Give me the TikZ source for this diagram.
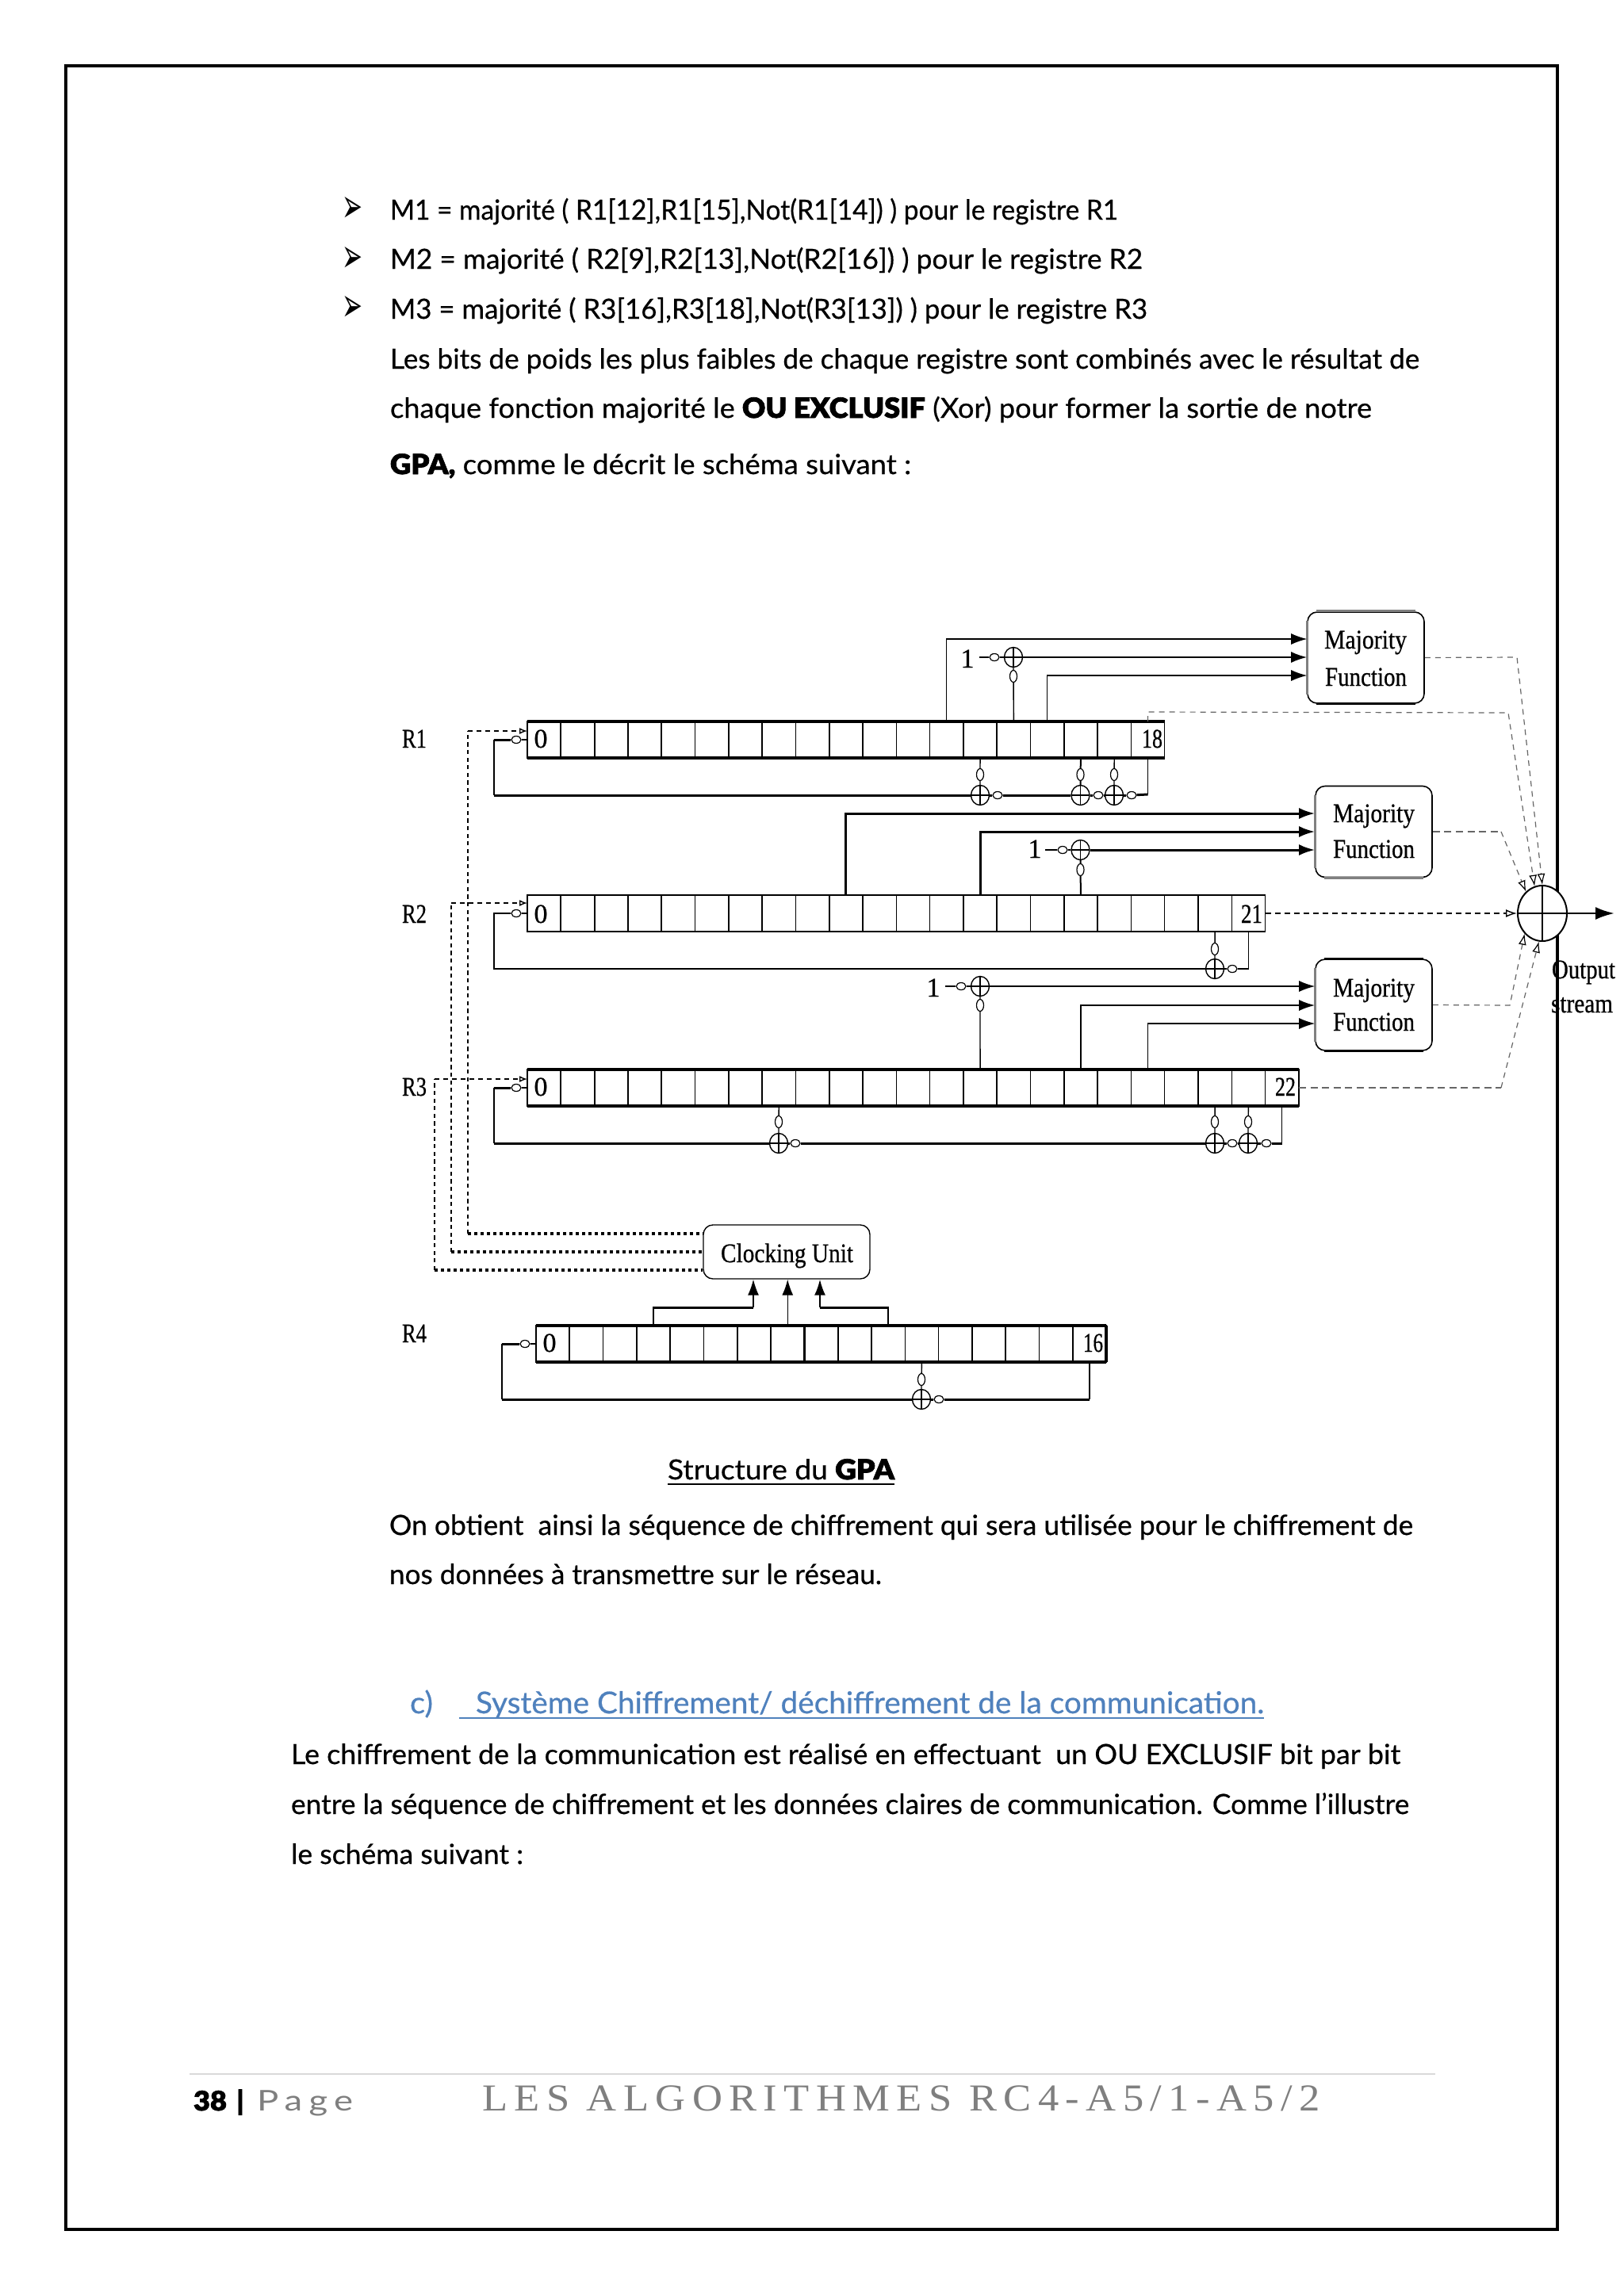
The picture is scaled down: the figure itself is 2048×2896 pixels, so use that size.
\documentclass[tikz,border=0pt]{standalone}
\usepackage{fontspec}
\usepackage{graphicx}
\usetikzlibrary{shapes.geometric,arrows.meta,calc}
\setmainfont{Lato}[FakeBold=0.5]
\newfontfamily\heavy{Lato Black}[FakeBold=2]
\newfontfamily\diag{Liberation Serif}[FakeBold=0.7]
\newfontfamily\dingfont{DejaVu Sans}
\newfontfamily\footserif{Liberation Serif}[LetterSpace=16]
\newfontfamily\footsans{Lato}[LetterSpace=18]
\definecolor{headblue}{HTML}{4F81BD}
\definecolor{footgray}{HTML}{7F7F7F}
\definecolor{dashgray}{HTML}{666666}
\newcommand{\fitx}[2]{\resizebox{\dimexpr #1pt/2\relax}{\height}{#2}}
\newcommand{\bodytext}{\fontsize{17.5}{20}\selectfont}
\newcommand{\dtext}{\diag\fontsize{17}{18}\selectfont}
% name, x, baseline, width (px), text
\newcommand{\bodyline}[5]{\node[txt] (#1) at (#2,#3) {\fitx{#4}{\bodytext #5}};}
\newcommand{\dlabel}[5]{\node[txt] (#1) at (#2,#3) {\fitx{#4}{\dtext #5}};}
\newcommand{\dcenter}[4]{\node[txt,anchor=base] (#1) at (#2,#3) {\dtext #4};}
% register: name, left x, top y, number of cells, cells with a heavy right side
\newcommand{\register}[5]{%
  \pgfmathtruncatemacro{\lastcell}{#4-1}%
  \foreach \i in {0,...,\lastcell}{%
    \pgfmathsetmacro{\cx}{#2+(\i+0.5)*42.3}%
    \pgfmathsetmacro{\cy}{#3+23}%
    \node[regcell] (#1c\i) at (\cx,\cy) {};
  }%
  \draw[divider] (#1c0.north west) -- (#1c0.south west);
  \foreach \i in {#5}{%
    \draw[divider] (#1c\i.north east) -- (#1c\i.south east);
  }%
}
\tikzset{
  x=0.5pt,y=-0.5pt,
  txt/.style={inner sep=0pt,outer sep=0pt,anchor=base west},
  regcell/.style={draw,line width=0.75pt,inner sep=0pt,outer sep=0pt,minimum width=21.15pt,minimum height=23pt},
  divider/.style={line width=1.1pt},
  edgebar/.style={line width=1.7pt},
  wire/.style={line width=0.7pt},
  wirem/.style={line width=1pt},
  wiret/.style={line width=1.5pt},
  tipb/.style={-{Latex[length=10pt,width=7pt]}},
  tipo/.style={-{Latex[open,length=7pt,width=5pt,color=black]}},
  tipi/.style={-{Latex[open,length=5pt,width=4pt]}},
  smallh/.style={ellipse,draw,fill=white,line width=0.6pt,inner sep=0pt,minimum width=6pt,minimum height=4.5pt},
  smallv/.style={ellipse,draw,fill=white,line width=0.6pt,inner sep=0pt,minimum width=4.5pt,minimum height=7.5pt},
  xorgate/.style={ellipse,draw,fill=white,line width=0.7pt,inner sep=0pt,minimum width=11.5pt,minimum height=12.5pt,
    path picture={\draw[line width=0.7pt] (path picture bounding box.north)--(path picture bounding box.south)
      (path picture bounding box.west)--(path picture bounding box.east);}},
  bigxor/.style={ellipse,draw,fill=white,line width=1pt,inner sep=0pt,minimum width=31pt,minimum height=35pt,
    path picture={\draw[line width=0.7pt] (path picture bounding box.north)--(path picture bounding box.south)
      (path picture bounding box.west)--(path picture bounding box.east);}},
  funcbox/.style={draw,rounded corners=6pt,line width=0.8pt,inner sep=0pt,minimum width=73.5pt,minimum height=57.5pt},
  clockbox/.style={draw,rounded corners=6pt,line width=0.7pt,inner sep=0pt,minimum width=105pt,minimum height=34pt},
  clockup/.style={line width=0.6pt,dash pattern=on 2.6pt off 2.2pt},
  clocktop/.style={line width=0.7pt,dash pattern=on 3pt off 2.5pt},
  clockh/.style={line width=1.6pt,dash pattern=on 2pt off 2pt},
  outthin/.style={line width=0.6pt,dashgray,dash pattern=on 3.5pt off 3pt},
  outthick/.style={line width=1.2pt,dashgray,dash pattern=on 4.5pt off 2.8pt},
  outblack/.style={line width=0.7pt,dash pattern=on 3.5pt off 2.5pt},
  barbox/.style={line width=1.6pt},
  graybar/.style={line width=1.6pt,gray},
  footrule/.style={line width=1pt,black!15},
  ulinestyle/.style={line width=1.1pt}
}
\begin{document}
\begin{tikzpicture}
\useasboundingbox (0,0) rectangle (2048,2896);
\fill[white] (0,0) rectangle (2048,2896);
\draw[line width=1.8pt] (83,83) rectangle (1964,2812);

% ---- body text, top
\node[inner sep=0pt] (b1) at (444,264) {\resizebox{13pt}{16pt}{\dingfont ➢}};
\node[inner sep=0pt] (b2) at (444,327) {\resizebox{13pt}{16pt}{\dingfont ➢}};
\node[inner sep=0pt] (b3) at (444,389) {\resizebox{13pt}{16pt}{\dingfont ➢}};
\bodyline{l1}{492}{277}{918}{M1 = majorité ( R1[12],R1[15],Not(R1[14]) ) pour le registre R1}
\bodyline{l2}{492}{339}{949}{M2 = majorité ( R2[9],R2[13],Not(R2[16]) ) pour le registre R2}
\bodyline{l3}{492}{402}{955}{M3 = majorité ( R3[16],R3[18],Not(R3[13]) ) pour le registre R3}
\bodyline{l4}{492}{465}{1298}{Les bits de poids les plus faibles de chaque registre sont combinés avec le résultat de}
\bodyline{l5}{492}{527}{1238}{chaque fonction majorité le {\heavy OU EXCLUSIF} (Xor) pour former la sortie de notre}
\bodyline{l6}{492}{598}{657}{{\heavy GPA,} comme le décrit le schéma suivant :}

% ---- registers
\register{r1}{665}{910}{19}{0,1,8,15,16}
\register{r2}{665}{1129}{22}{0,1,8,15,16}
\register{r3}{665}{1349}{23}{0,1,8,15,16}
\register{r4}{676}{1672}{17}{0,7,8,15}
\draw[edgebar] (r1c0.north west) -- (r1c18.north east);
\draw[edgebar] (r1c0.south west) -- (r1c18.south east);
\draw[edgebar] (r3c0.north west) -- (r3c22.north east);
\draw[edgebar] (r3c0.south west) -- (r3c22.south east);
\draw[edgebar] (r4c0.north west) -- (r4c16.north east);
\draw[edgebar] (r4c0.south west) -- (r4c16.south east);
\draw[edgebar] (r4c16.north east) -- (r4c16.south east);

% ---- register labels and cell labels
\dlabel{rl1}{507}{943}{31}{R1}
\dlabel{rl2}{507}{1164}{31}{R2}
\dlabel{rl3}{507}{1382}{31}{R3}
\dlabel{rl4}{507}{1693}{31}{R4}
\dcenter{z1}{682}{943}{0}
\dcenter{z2}{682}{1164}{0}
\dcenter{z3}{682}{1382}{0}
\dcenter{z4}{693}{1705}{0}
\dlabel{e1}{1440}{943}{26}{18}
\dlabel{e2}{1565}{1164}{27}{21}
\dlabel{e3}{1608}{1382}{26}{22}
\dlabel{e4}{1366}{1705}{25}{16}
\dcenter{one1}{1220}{842}{1}
\dcenter{one2}{1305}{1082}{1}
\dcenter{one3}{1177}{1257}{1}

% ---- function boxes
\node[funcbox] (mf1) at (1722.5,829.5) {};
\node[funcbox] (mf2) at (1732.5,1049) {};
\node[funcbox] (mf3) at (1732.5,1267.5) {};
\dlabel{mf1a}{1670}{818}{104}{Majority}
\dlabel{mf1b}{1671}{865}{103}{Function}
\dlabel{mf2a}{1681}{1037}{103}{Majority}
\dlabel{mf2b}{1681}{1082}{103}{Function}
\dlabel{mf3a}{1681}{1257}{103}{Majority}
\dlabel{mf3b}{1681}{1300}{103}{Function}
\draw[graybar] ($(mf1.north west)+(12,-1)$) -- ($(mf1.north east)+(-12,-1)$);
\draw[graybar] ($(mf1.north west)+(0,12)$) -- ($(mf1.south west)+(0,-12)$);
\draw[barbox] ($(mf1.south west)+(12,0)$) -- ($(mf1.south east)+(-12,0)$);
\draw[graybar] ($(mf2.north west)+(0,12)$) -- ($(mf2.south west)+(0,-12)$);
\draw[graybar] ($(mf2.south west)+(12,0)$) -- ($(mf2.south east)+(-12,0)$);
\draw[barbox] ($(mf3.north west)+(12,0)$) -- ($(mf3.north east)+(-12,0)$);
\draw[graybar] ($(mf3.north west)+(0,12)$) -- ($(mf3.south west)+(0,-12)$);
\draw[barbox] ($(mf3.south west)+(12,0)$) -- ($(mf3.south east)+(-12,0)$);

% ---- clocking unit
\node[clockbox] (cu) at (992,1579) {};
\dlabel{cut}{909}{1592}{167}{Clocking Unit}

% ---- gates and input circles
\node[xorgate] (xa1) at (1278,829) {};
\node[xorgate] (xa2) at (1362.5,1072) {};
\node[xorgate] (xa3) at (1236,1244) {};
\node[smallh] (ha1) at (1254,829) {};
\node[smallh] (ha2) at (1340,1072) {};
\node[smallh] (ha3) at (1212,1244) {};
\node[smallv] (va1) at (1278,853) {};
\node[smallv] (va2) at (1362.5,1097) {};
\node[smallv] (va3) at (1236,1268) {};

\node[xorgate] (x11) at (1236,1003) {};
\node[xorgate] (x12) at (1362.5,1003) {};
\node[xorgate] (x13) at (1405,1003) {};
\node[smallh] (h11) at (1258,1003) {};
\node[smallh] (h12) at (1385,1003) {};
\node[smallh] (h13) at (1427,1003) {};
\node[smallv] (v11) at (1236,977) {};
\node[smallv] (v12) at (1362.5,977) {};
\node[smallv] (v13) at (1405,977) {};
\node[xorgate] (x21) at (1532,1222) {};
\node[smallh] (h21) at (1554,1222) {};
\node[smallv] (v21) at (1532,1197) {};
\node[xorgate] (x31) at (982,1442) {};
\node[xorgate] (x32) at (1532,1442) {};
\node[xorgate] (x33) at (1574,1442) {};
\node[smallh] (h31) at (1003,1442) {};
\node[smallh] (h32) at (1554,1442) {};
\node[smallh] (h33) at (1597,1442) {};
\node[smallv] (v31) at (982,1415) {};
\node[smallv] (v32) at (1532,1415) {};
\node[smallv] (v33) at (1574,1415) {};
\node[xorgate] (x41) at (1162,1765) {};
\node[smallh] (h41) at (1184,1765) {};
\node[smallv] (v41) at (1162,1740) {};
\node[smallh] (in1) at (651,933) {};
\node[smallh] (in2) at (651,1152) {};
\node[smallh] (in3) at (651,1372) {};
\node[smallh] (in4) at (662,1695) {};
\node[bigxor] (out) at (1945,1152) {};

% ---- free ends and bends
\coordinate (wa1) at (1235,829);
\coordinate (wa2) at (1318,1072);
\coordinate (wa3) at (1192,1244);
\coordinate (f1) at (623,1003);  \coordinate (f1u) at (623,933);
\coordinate (f2) at (623,1222);  \coordinate (f2u) at (623,1152);
\coordinate (f3) at (623,1442);  \coordinate (f3u) at (623,1372);
\coordinate (f4) at (633,1765);  \coordinate (f4u) at (633,1695);
\coordinate (c1t) at (590,922);  \coordinate (c1b) at (590,1556);
\coordinate (c2t) at (569,1139); \coordinate (c2b) at (569,1579);
\coordinate (c3t) at (548,1361); \coordinate (c3b) at (548,1602);
\coordinate (ka) at (950,1649);  \coordinate (kc) at (1034,1649);
\coordinate (o1a) at (1447.5,898); \coordinate (o1b) at (1902,899);
\coordinate (o2a) at (1913,829);
\coordinate (o3a) at (1893,1049);
\coordinate (o4a) at (1904,1268);
\coordinate (o5a) at (1893,1372);
\coordinate (outend) at (2036,1152);

% ---- register 1 wires
\draw[wire] (r1c18.south) -- ($(r1c18.south)+(0,46)$);
\draw[wiret] ($(r1c18.south)+(0,46)$) -- (h13);
\draw[wiret] (h13) -- (x13) (x13) -- (h12) (h12) -- (x12) (x12) -- (h11) (h11) -- (x11);
\draw[wiret] (x11.west) -- (f1);
\draw[wire] (f1) -- (f1u);
\draw[wiret] (f1u) -- (in1);
\draw[wire] (in1) -- (r1c0.west);
\draw[wire] (r1c13.south) -- (v11) -- (x11);
\draw[wirem] (r1c16.south) -- (v12) -- (x12);
\draw[wire] (r1c17.south) -- (v13) -- (x13);
\draw[wire,tipb] (r1c12.north) |- (mf1.west |- 0,806);
\draw[wire] (wa1) -- (ha1) -- (xa1);
\draw[wirem,tipb] (xa1) -- (mf1.west |- 0,829);
\draw[wire] (r1c14.north) -- (va1) -- (xa1);
\draw[wire,tipb] (r1c15.north) |- (mf1.west |- 0,852);

% ---- register 2 wires
\draw[wire] (r2c21.south) |- (h21);
\draw[wire] (h21) -- (x21);
\draw[wire] (x21.west) -- (f2) -- (f2u) -- (in2) -- (r2c0.west |- in2);
\draw[wire] (r2c20.south) -- (v21) -- (x21);
\draw[wiret,tipb] (r2c9.north) |- (mf2.west |- 0,1026);
\draw[wiret,tipb] (r2c13.north) |- (mf2.west |- 0,1049);
\draw[wirem] (wa2) -- (ha2) -- (xa2);
\draw[wiret,tipb] (xa2) -- (mf2.west |- 0,1072);
\draw[wirem] (r2c16.north) -- (va2) -- (xa2);

% ---- register 3 wires
\draw[wire] (r3c22.south) -- ($(r3c22.south)+(0,47)$);
\draw[wiret] ($(r3c22.south)+(0,47)$) -- (h33);
\draw[wiret] (h33) -- (x33) (x33) -- (h32) (h32) -- (x32) (x32) -- (h31) (h31) -- (x31);
\draw[wiret] (x31.west) -- (f3);
\draw[wire] (f3) -- (f3u);
\draw[wiret] (f3u) -- (in3);
\draw[wire] (in3) -- (r3c0.west);
\draw[wire] (r3c7.south) -- (v31) -- (x31);
\draw[wire] (r3c20.south) -- (v32) -- (x32);
\draw[wire] (r3c21.south) -- (v33) -- (x33);
\draw[wire] (wa3) -- (ha3) -- (xa3);
\draw[wire,tipb] (xa3) -- (mf3.west |- 0,1244);
\draw[wire] (r3c13.north) -- (va3) -- (xa3);
\draw[wirem,tipb] (r3c16.north) |- (mf3.west |- 0,1268);
\draw[wire,tipb] (r3c18.north) |- (mf3.west |- 0,1291);

% ---- register 4 wires
\draw[wire] (r4c16.south) -- ($(r4c16.south)+(0,47)$);
\draw[wiret] ($(r4c16.south)+(0,47)$) -- (h41);
\draw[wiret] (h41) -- (x41);
\draw[wiret] (x41.west) -- (f4);
\draw[wire] (f4) -- (f4u);
\draw[wiret] (f4u) -- (in4);
\draw[wire] (in4) -- (r4c0.west);
\draw[wire] (r4c11.south) -- (v41) -- (x41);
\draw[wire] (r4c3.north) |- (ka);
\draw[wiret] ($(r4c3.north)+(0,-23)$) -- (ka);
\draw[wire,tipb] (ka) -- (ka |- cu.south);
\draw[wire,tipb] (r4c7.north) -- (r4c7.north |- cu.south);
\draw[wire] (r4c10.north) |- (kc);
\draw[wiret] ($(r4c10.north)+(0,-23)$) -- (kc);
\draw[wirem,tipb] (kc) -- (kc |- cu.south);

% ---- clock lines
\draw[clockh] (c1b) -- (cu.west |- c1b);
\draw[clockh] (c2b) -- (cu.west |- c2b);
\draw[clockh] (c3b) -- (cu.west |- c3b);
\draw[clockup] (c1b) -- (c1t);
\draw[clockup] (c2b) -- (c2t);
\draw[clockup] (c3b) -- (c3t);
\draw[clocktop,tipi] (c1t) -- (r1c0.west |- c1t);
\draw[clocktop,tipi] (c2t) -- (r2c0.west |- c2t);
\draw[clocktop,tipi] (c3t) -- (r3c0.west |- c3t);

% ---- output lines
\draw[outthin,tipo] (r1c18.north) -- (o1a) -- (o1b) -- (out.106);
\draw[outthin,tipo] (mf1.east) -- (o2a) -- (out.90);
\draw[outthick] (mf2.east) -- (o3a);
\draw[outthin,tipo] (o3a) -- (out.127);
\draw[outblack,tipo] (r2c21.east) -- (out.west);
\draw[outthin,tipo] (mf3.east) -- (o4a) -- (out.229);
\draw[outthick] (r3c22.east) -- (o5a);
\draw[outthin,tipo] (o5a) -- (out.263);
\draw[line width=1.4pt,-{Latex[length=12pt,width=8pt]}] (out.east) -- (outend);
\dlabel{oa}{1957}{1234}{80}{Output}
\dlabel{ob}{1956}{1277}{78}{stream}

% ---- caption and body text, bottom
\bodyline{cap}{842}{1866}{286}{Structure du {\heavy GPA}}
\coordinate (capa) at (842,1872); \coordinate (capb) at (1128,1872);
\draw[ulinestyle] (capa) -- (capb);
\bodyline{l7}{491}{1936}{1291}{On obtient\ \ ainsi la séquence de chiffrement qui sera utilisée pour le chiffrement de}
\bodyline{l8}{491}{1998}{621}{nos données à transmettre sur le réseau.}
\node[txt,text=headblue] (hc) at (517,2161) {\fitx{29}{\fontsize{19}{20}\selectfont c)}};
\node[txt,text=headblue] (ht) at (600,2161) {\fitx{994}{\fontsize{19}{20}\selectfont Système Chiffrement/ déchiffrement de la communication.}};
\coordinate (hua) at (579,2167); \coordinate (hub) at (1594,2167);
\draw[ulinestyle,headblue] (hua) -- (hub);
\bodyline{l9}{367}{2225}{1399}{Le chiffrement de la communication est réalisé en effectuant\ \ un OU EXCLUSIF bit par bit}
\bodyline{l10}{367}{2288}{1410}{entre la séquence de chiffrement et les données claires de communication. Comme l’illustre}
\bodyline{l11}{367}{2351}{293}{le schéma suivant :}

% ---- footer
\coordinate (fa) at (239,2616); \coordinate (fb) at (1810,2616);
\draw[footrule] (fa) -- (fb);
\node[txt] (pn) at (244,2662) {\fitx{42}{\heavy\fontsize{17}{20}\selectfont 38}};
\node[txt,anchor=base] (pb) at (303,2662) {\heavy\fontsize{17}{20}\selectfont |};
\node[txt,text=footgray] (pg) at (324,2662) {\fitx{121}{\footsans\fontsize{18}{20}\selectfont Page}};
\node[txt,text=footgray] (ft) at (608,2662) {\fitx{1057}{\footserif\fontsize{24}{26}\selectfont LES ALGORITHMES RC4-A5/1-A5/2}};
\end{tikzpicture}
\end{document}
